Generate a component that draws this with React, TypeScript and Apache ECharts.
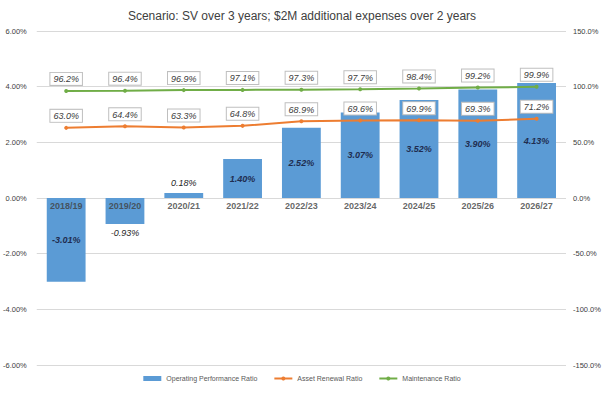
import React, { useEffect, useRef } from "react";
import * as echarts from "echarts";

const title = "Scenario: SV over 3 years; $2M additional expenses over 2 years";
const categories = ["2018/19", "2019/20", "2020/21", "2021/22", "2022/23", "2023/24", "2024/25", "2025/26", "2026/27"];
const operatingPerformance = [-3.01, -0.93, 0.18, 1.40, 2.52, 3.07, 3.52, 3.90, 4.13];
const assetRenewal = [63.0, 64.4, 63.3, 64.8, 68.9, 69.6, 69.9, 69.3, 71.2];
const maintenance = [96.2, 96.4, 96.9, 97.1, 97.3, 97.7, 98.4, 99.2, 99.9];
const seriesNames = ["Operating Performance Ratio", "Asset Renewal Ratio", "Maintenance Ratio"];

const FONT = "Liberation Sans";

export default function App() {
  const ref = useRef<HTMLDivElement>(null);
  useEffect(() => {
    if (!ref.current) return;
    const chart = echarts.init(ref.current, undefined, { renderer: "svg" });
    const lineLabel = {
      show: true,
      position: "top",
      distance: 4,
      fontFamily: FONT,
      fontSize: 9,
      fontStyle: "italic",
      color: "#404040",
      backgroundColor: "#ffffff",
      borderColor: "#bfbfbf",
      borderWidth: 1,
      padding: [2, 3, 1, 3],
      formatter: (p: any) => p.value.toFixed(1) + "%",
    };
    chart.setOption({
      animation: false,
      backgroundColor: "#ffffff",
      textStyle: { fontFamily: FONT },
      title: {
        text: title,
        left: "center",
        top: 5,
        textStyle: { fontFamily: FONT, fontSize: 12, fontWeight: "normal", color: "#404040" },
      },
      grid: { left: 34, right: 38, top: 31, bottom: 29, containLabel: false },
      legend: {
        bottom: 7,
        left: "center",
        itemGap: 16,
        itemWidth: 18,
        itemHeight: 5,
        textStyle: { fontFamily: FONT, fontSize: 7, color: "#595959" },
        data: [
          { name: seriesNames[0], icon: "rect" },
          { name: seriesNames[1] },
          { name: seriesNames[2] },
        ],
      },
      xAxis: {
        type: "category",
        data: categories,
        axisLine: { show: false },
        axisTick: { show: false },
        axisLabel: { show: false },
      },
      yAxis: [
        {
          type: "value",
          min: -6,
          max: 6,
          interval: 2,
          axisLine: { show: false },
          axisTick: { show: false },
          splitLine: { lineStyle: { color: "#d9d9d9" } },
          axisLabel: {
            fontFamily: FONT,
            fontSize: 7.5,
            color: "#404040",
            margin: 10,
            formatter: (v: number) => v.toFixed(2) + "%",
          },
        },
        {
          type: "value",
          min: -150,
          max: 150,
          interval: 50,
          axisLine: { show: false },
          axisTick: { show: false },
          splitLine: { show: false },
          axisLabel: {
            fontFamily: FONT,
            fontSize: 7.5,
            color: "#404040",
            margin: 7,
            formatter: (v: number) => v.toFixed(1) + "%",
          },
        },
      ],
      series: [
        {
          name: seriesNames[0],
          type: "bar",
          yAxisIndex: 0,
          barWidth: "66%",
          itemStyle: { color: "#5b9bd5" },
          data: operatingPerformance.map((v) => {
            const small = Math.abs(v) < 1;
            return {
              value: v,
              label: {
                show: true,
                position: small ? (v < 0 ? "bottom" : "top") : "inside",
                distance: 5,
                fontFamily: FONT,
                fontSize: 9,
                fontStyle: "italic",
                fontWeight: small ? "normal" : "bold",
                color: small ? "#262626" : "#1f2d50",
                formatter: v.toFixed(2) + "%",
              },
            };
          }),
        },
        {
          name: "categoryLabels",
          type: "scatter",
          yAxisIndex: 0,
          symbolSize: 0,
          silent: true,
          z: 5,
          label: {
            show: true,
            position: "bottom",
            distance: 3,
            fontFamily: FONT,
            fontSize: 9,
            fontWeight: "bold",
            color: "#404040",
            formatter: (p: any) => p.name,
          },
          data: categories.map((c) => ({ name: c, value: [c, 0] })),
        },
        {
          name: seriesNames[1],
          type: "line",
          yAxisIndex: 1,
          symbol: "circle",
          symbolSize: 4,
          lineStyle: { color: "#ed7d31", width: 2 },
          itemStyle: { color: "#ed7d31" },
          label: lineLabel,
          data: assetRenewal,
        },
        {
          name: seriesNames[2],
          type: "line",
          yAxisIndex: 1,
          symbol: "circle",
          symbolSize: 4,
          lineStyle: { color: "#70ad47", width: 2 },
          itemStyle: { color: "#70ad47" },
          label: lineLabel,
          data: maintenance,
        },
      ],
    });
    return () => chart.dispose();
  }, []);
  return <div ref={ref} style={{ width: 604, height: 394, position: "absolute", left: 0, top: 0 }} />;
}
